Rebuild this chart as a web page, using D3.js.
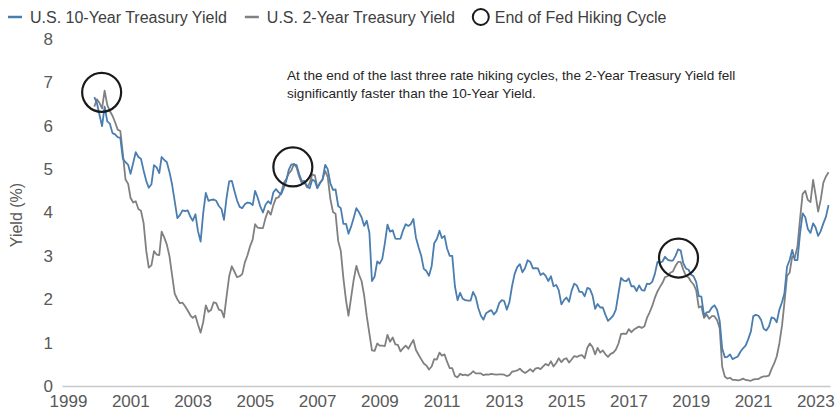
<!DOCTYPE html>
<html><head><meta charset="utf-8">
<script src="https://cdn.jsdelivr.net/npm/d3@7"></script>
<style>
body{margin:0;background:#fff;}
svg{display:block;font-family:"Liberation Sans",Arial,sans-serif;}
</style>
</head><body>
<svg id="chart" width="835" height="414"></svg>
<script>
// ---- data (monthly, starting Jan 2000) ----
const startYear = 2000;
const tenYear = [
 6.66,6.52,6.26,5.99,6.44,6.10,6.05,5.83,5.80,5.74,5.72,5.24,
 5.16,5.10,4.89,5.14,5.39,5.28,5.24,4.97,4.73,4.57,4.65,5.09,
 5.04,4.91,5.28,5.21,5.16,4.93,4.65,4.26,3.87,3.94,4.05,4.03,
 4.05,3.90,3.81,3.96,3.57,3.33,3.98,4.45,4.27,4.29,4.30,4.27,
 4.15,4.08,3.83,4.35,4.72,4.73,4.50,4.28,4.13,4.10,4.19,4.23,
 4.22,4.17,4.50,4.34,4.14,4.00,4.18,4.26,4.20,4.46,4.54,4.47,
 4.42,4.57,4.72,4.99,5.11,5.11,5.09,4.88,4.72,4.73,4.60,4.56,
 4.76,4.72,4.56,4.69,4.75,5.10,5.00,4.67,4.52,4.53,4.15,4.10,
 3.74,3.74,3.51,3.68,3.88,4.10,4.01,3.89,3.69,3.81,3.53,2.42,
 2.52,2.87,2.82,2.93,3.29,3.72,3.56,3.59,3.40,3.39,3.40,3.59,
 3.73,3.69,3.73,3.85,3.42,3.20,3.01,2.70,2.65,2.54,2.76,3.29,
 3.39,3.58,3.41,3.46,3.17,3.00,3.00,2.30,1.98,2.15,2.01,1.98,
 1.97,1.97,2.17,2.05,1.80,1.62,1.53,1.68,1.72,1.75,1.65,1.72,
 1.91,1.98,1.96,1.76,1.93,2.30,2.58,2.74,2.81,2.62,2.72,2.90,
 2.86,2.71,2.72,2.71,2.56,2.60,2.54,2.42,2.53,2.30,2.33,2.21,
 1.88,1.98,2.04,1.94,2.20,2.36,2.32,2.17,2.17,2.07,2.26,2.24,
 2.09,1.78,1.89,1.81,1.81,1.64,1.50,1.56,1.63,1.76,2.14,2.49,
 2.43,2.42,2.48,2.30,2.30,2.19,2.32,2.21,2.20,2.36,2.35,2.40,
 2.58,2.86,2.84,2.87,2.98,2.91,2.89,2.89,3.00,3.15,3.12,2.83,
 2.71,2.68,2.57,2.53,2.40,2.07,2.06,1.63,1.70,1.71,1.81,1.86,
 1.76,1.50,0.87,0.66,0.67,0.73,0.62,0.65,0.68,0.79,0.87,0.93,
 1.08,1.26,1.61,1.64,1.62,1.52,1.32,1.28,1.37,1.58,1.56,1.47,
 1.76,1.93,2.13,2.75,2.90,3.14,2.90,2.90,3.52,3.98,3.89,3.62,
 3.53,3.75,3.66,3.46,3.57,3.75,3.90,4.17
];
const twoYear = [
 6.44,6.61,6.53,6.40,6.81,6.48,6.34,6.23,6.08,5.91,5.88,5.35,
 4.76,4.66,4.34,4.23,4.26,4.08,4.04,3.76,3.12,2.73,2.78,3.11,
 3.03,3.02,3.56,3.42,3.26,2.99,2.56,2.13,2.00,1.91,1.92,1.84,
 1.74,1.63,1.57,1.62,1.42,1.23,1.47,1.86,1.71,1.75,1.93,1.91,
 1.76,1.74,1.58,2.07,2.53,2.76,2.64,2.51,2.53,2.58,2.85,3.01,
 3.22,3.38,3.73,3.65,3.64,3.64,3.87,4.04,3.95,4.17,4.33,4.35,
 4.45,4.68,4.77,4.90,4.97,5.12,5.04,4.82,4.67,4.69,4.58,4.68,
 4.88,4.85,4.57,4.67,4.77,4.96,4.82,4.31,4.01,3.97,3.34,3.12,
 2.48,1.97,1.62,2.05,2.45,2.77,2.57,2.42,2.08,1.61,1.21,0.82,
 0.81,0.98,0.93,0.93,0.92,1.18,1.02,1.12,0.96,0.95,0.80,0.87,
 0.93,0.86,0.96,1.06,0.83,0.72,0.62,0.52,0.47,0.38,0.45,0.62,
 0.61,0.77,0.70,0.73,0.56,0.41,0.41,0.23,0.20,0.28,0.25,0.26,
 0.24,0.28,0.34,0.29,0.29,0.29,0.25,0.27,0.26,0.28,0.27,0.26,
 0.27,0.27,0.26,0.23,0.25,0.33,0.34,0.36,0.40,0.34,0.30,0.34,
 0.39,0.33,0.40,0.42,0.39,0.45,0.51,0.47,0.57,0.45,0.53,0.64,
 0.55,0.62,0.64,0.54,0.61,0.69,0.67,0.70,0.71,0.64,0.88,0.98,
 0.90,0.73,0.88,0.77,0.82,0.73,0.67,0.74,0.77,0.84,0.98,1.20,
 1.21,1.20,1.31,1.24,1.30,1.34,1.37,1.34,1.38,1.57,1.70,1.84,
 2.03,2.18,2.28,2.38,2.51,2.53,2.61,2.64,2.77,2.86,2.86,2.68,
 2.54,2.50,2.41,2.34,2.21,1.81,1.84,1.57,1.65,1.55,1.61,1.61,
 1.52,1.33,0.45,0.22,0.17,0.19,0.14,0.14,0.13,0.14,0.17,0.14,
 0.13,0.12,0.15,0.16,0.16,0.20,0.22,0.22,0.24,0.39,0.52,0.68,
 0.98,1.39,1.91,2.54,2.61,2.99,2.96,3.21,3.86,4.43,4.50,4.29,
 4.24,4.75,4.42,4.02,4.29,4.69,4.83,4.93
];
const yearTicks = [1999,2001,2003,2005,2007,2009,2011,2013,2015,2017,2019,2021,2023];
const yTicks = [0,1,2,3,4,5,6,7,8];
const hikeEndDates = ["2000-04-10","2006-06-01","2018-10-20"];
const hikeEndValues = [6.77,5.05,2.95];
const seriesNames = ["U.S. 10-Year Treasury Yield","U.S. 2-Year Treasury Yield"];
const circleLabel = "End of Fed Hiking Cycle";
const noteLines = ["At the end of the last three rate hiking cycles, the 2-Year Treasury Yield fell",
                   "significantly faster than the 10-Year Yield."];
const yTitle = "Yield (%)";

// ---- layout ----
const svg = d3.select("#chart");
const blue = "#4a7db0", gray = "#808080";
const dates = tenYear.map((d,i)=>new Date(startYear, i, 15));

const x = d3.scaleTime().domain([new Date(1999,0,1), new Date(2023,8,1)]).range([62, 830]);
const y = d3.scaleLinear().domain([0,8]).range([386, 39]);

// y tick labels
svg.append("g").selectAll("text").data(yTicks).join("text")
  .attr("x", 53).attr("y", d=>y(d)).attr("dy","0.35em")
  .attr("text-anchor","end").attr("font-size",17).attr("fill","#595959")
  .text(d=>d);

// y title
svg.append("text").attr("transform","translate(22,215) rotate(-90)")
  .attr("text-anchor","middle").attr("font-size",16).attr("fill","#595959").text(yTitle);

// x axis
const xAxis = d3.axisBottom(x)
  .tickValues(yearTicks.map(yr=>new Date(yr,0,1)))
  .tickFormat(d3.timeFormat("%Y")).tickSize(0).tickPadding(9);
const gx = svg.append("g").attr("transform",`translate(0,${y(0)})`).call(xAxis);
gx.select(".domain").attr("stroke","#c8c8c8").attr("stroke-width",1.5);
gx.selectAll("text").attr("font-size",17).attr("fill","#595959")
  .attr("font-family","'Liberation Sans',Arial,sans-serif").attr("dx",6);

// lines
const line = d3.line().x((d,i)=>x(dates[i])).y(d=>y(d));
svg.append("path").datum(twoYear).attr("d",line).attr("fill","none")
  .attr("stroke",gray).attr("stroke-width",1.8).attr("stroke-linejoin","round");
svg.append("path").datum(tenYear).attr("d",line).attr("fill","none")
  .attr("stroke",blue).attr("stroke-width",1.8).attr("stroke-linejoin","round");

// hike-end circles
const parse = d3.timeParse("%Y-%m-%d");
svg.append("g").selectAll("circle").data(hikeEndDates).join("circle")
  .attr("cx",d=>x(parse(d))).attr("cy",(d,i)=>y(hikeEndValues[i])).attr("r",19.5)
  .attr("fill","none").attr("stroke","#1a1a1a").attr("stroke-width",2.2);

// annotation
svg.append("text").attr("x",287).attr("y",80).attr("font-size",13.6).attr("fill","#262626")
  .selectAll("tspan").data(noteLines).join("tspan")
  .attr("x",287).attr("dy",(d,i)=>i?18:0).text(d=>d);

// legend
const lg = svg.append("g").attr("font-size",16).attr("fill","#404040");
let lx = 8;
[[blue,seriesNames[0]],[gray,seriesNames[1]]].forEach(([c,t])=>{
  lg.append("line").attr("x1",lx).attr("x2",lx+14).attr("y1",17).attr("y2",17)
    .attr("stroke",c).attr("stroke-width",2.5);
  const tx = lg.append("text").attr("x",lx+22).attr("y",23).text(t);
  lx = lx + 22 + tx.node().getComputedTextLength() + 18;
});
lg.append("circle").attr("cx",lx+8).attr("cy",17).attr("r",8)
  .attr("fill","none").attr("stroke","#1a1a1a").attr("stroke-width",2);
lg.append("text").attr("x",lx+22).attr("y",23).text(circleLabel);
</script>
</body></html>
